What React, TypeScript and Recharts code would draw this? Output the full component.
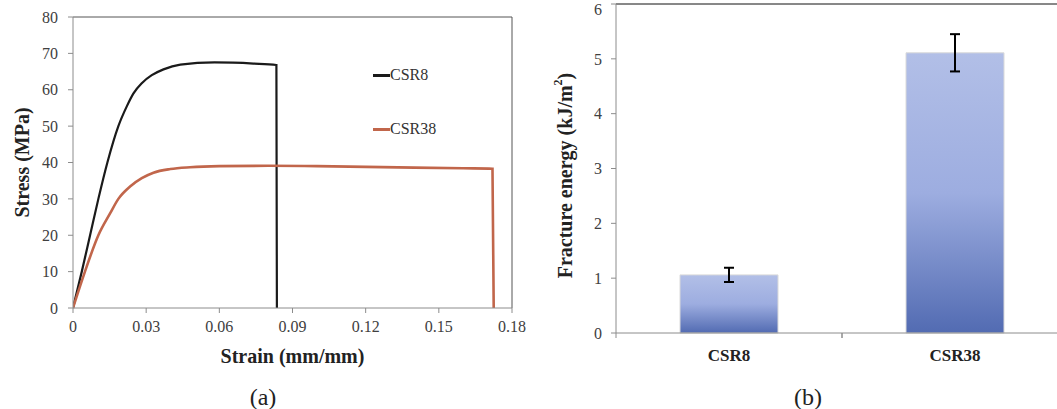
import { Bar, BarChart, ErrorBar, Label, Legend, Line, LineChart, ReferenceLine, XAxis, YAxis } from 'recharts';

// (a) stress-strain curves
const csr8Strain = [0, 0.0036, 0.007, 0.0104, 0.0141, 0.0186, 0.0221, 0.0248, 0.0282, 0.0323, 0.0371, 0.044, 0.058, 0.074, 0.0834, 0.0836];
const csr8Stress = [0, 10, 20, 30, 40, 50, 55.5, 59, 61.8, 64, 65.6, 66.9, 67.5, 67.2, 66.8, 0];
const csr38Strain = [0, 0.0049, 0.0104, 0.0152, 0.0186, 0.0234, 0.0282, 0.033, 0.0399, 0.048, 0.06, 0.08, 0.1, 0.12, 0.14, 0.16, 0.172, 0.1725];
const csr38Stress = [0, 10, 20, 26, 30, 33.4, 35.7, 37.2, 38.2, 38.7, 39, 39.1, 39, 38.8, 38.6, 38.4, 38.3, 0];
const strainTicks = [0, 0.03, 0.06, 0.09, 0.12, 0.15, 0.18];
const stressTicks = [0, 10, 20, 30, 40, 50, 60, 70, 80];

// (b) fracture energy
const samples = ['CSR8', 'CSR38'];
const fractureEnergy = [1.06, 5.11];
const fractureError = [0.13, 0.34];
const energyTicks = [0, 1, 2, 3, 4, 5, 6];

const zip = (xs: number[], ys: number[]) => xs.map((x, i) => ({ strain: x, stress: ys[i] }));
const csr8Data = zip(csr8Strain, csr8Stress);
const csr38Data = zip(csr38Strain, csr38Stress);
const energyData = samples.map((s, i) => ({ sample: s, energy: fractureEnergy[i], err: fractureError[i] }));

const serif = "'Liberation Serif', 'Times New Roman', serif";
const tickStyle = { fill: '#404040', fontSize: 16, fontFamily: serif };
const axisGrey = '#8c8c8c';

function SideTitle({ viewBox, left, shift = 0, children }: any) {
  const cy = viewBox.y + viewBox.height / 2 + shift;
  return (
    <text x={left} y={cy} transform={`rotate(-90 ${left} ${cy})`} textAnchor="middle" dominantBaseline="central"
      fontWeight="bold" fontSize={20} fill="#222" style={{ fontFamily: serif }}>
      {children}
    </text>
  );
}

function CurveLegend({ payload }: any) {
  const items = [...(payload || [])].sort((a: any, b: any) => samples.indexOf(a.value) - samples.indexOf(b.value));
  return (
    <div>
      {items.map((p: any) => (
        <div key={p.value} style={{ display: 'flex', alignItems: 'center', height: 54, fontSize: 16, color: '#333', fontFamily: serif }}>
          <span style={{ display: 'inline-block', width: 17, height: 3, background: p.color }} />
          <span>{p.value}</span>
        </div>
      ))}
    </div>
  );
}

function SampleTick({ x, y, payload }: any) {
  const half = payload.offset ?? 113;
  return (
    <g>
      <line x1={x - half} x2={x - half} y1={y - 16} y2={y - 11} stroke={axisGrey} />
      <line x1={x + half} x2={x + half} y1={y - 16} y2={y - 11} stroke={axisGrey} />
      <text x={x} y={y} dy={12} textAnchor="middle" fontWeight="bold" fontSize={17} fill="#222" style={{ fontFamily: serif }}>
        {payload.value}
      </text>
    </g>
  );
}

export default function App() {
  return (
    <div style={{ position: 'absolute', left: 0, top: 0, width: 1057, height: 409, overflow: 'hidden', background: '#fff', fontFamily: serif }}>
      <div style={{ position: 'absolute', left: 0, top: 0 }}>
        <LineChart width={530} height={409} margin={{ top: 17, right: 18, bottom: 5, left: 0 }}>
          <XAxis dataKey="strain" type="number" domain={[0, 0.18]} ticks={strainTicks} allowDataOverflow
            height={96} tick={tickStyle} tickSize={5} tickMargin={8} stroke={axisGrey}
            label={{ value: 'Strain (mm/mm)', position: 'center', fontSize: 20, fontWeight: 'bold', fill: '#222', fontFamily: serif }} />
          <YAxis type="number" domain={[0, 80]} ticks={stressTicks} width={73} tick={tickStyle} tickSize={5} tickMargin={10} stroke={axisGrey}>
            <Label content={<SideTitle left={22}>Stress (MPa)</SideTitle>} />
          </YAxis>
          <ReferenceLine y={80} stroke="#555" />
          <ReferenceLine x={0.18} stroke="#555" />
          <Legend verticalAlign="middle" align="center" layout="vertical" content={<CurveLegend />}
            wrapperStyle={{ left: 373, top: 48, width: 100 }} />
          <Line data={csr8Data} dataKey="stress" name="CSR8" type="monotone" stroke="#1a1a1a" strokeWidth={2.2}
            dot={false} isAnimationActive={false} />
          <Line data={csr38Data} dataKey="stress" name="CSR38" type="monotone" stroke="#c1664b" strokeWidth={2.6}
            dot={false} isAnimationActive={false} />
        </LineChart>
      </div>

      <div style={{ position: 'absolute', left: 540, top: 0 }}>
        <BarChart width={540} height={409} data={energyData} margin={{ top: 4, right: 12, bottom: 0, left: 0 }}>
          <defs>
            <linearGradient id="barFade" x1="0" y1="0" x2="0" y2="1">
              <stop offset="0%" stopColor="#b2bfe7" />
              <stop offset="50%" stopColor="#9dade0" />
              <stop offset="100%" stopColor="#526bb2" />
            </linearGradient>
          </defs>
          <XAxis dataKey="sample" height={76} tickLine={false} tickSize={5} tickMargin={11} stroke={axisGrey}
            tick={<SampleTick />} interval={0} />
          <YAxis type="number" domain={[0, 6]} ticks={energyTicks} width={76} tick={tickStyle} tickSize={5} tickMargin={9} stroke={axisGrey}>
            <Label content={
              <SideTitle left={25} shift={7}>
                Fracture energy (kJ/m<tspan dy={-7} fontSize={12}>2</tspan><tspan dy={7}>)</tspan>
              </SideTitle>
            } />
          </YAxis>
          <ReferenceLine y={6} stroke="#111" />
          <Bar dataKey="energy" barSize={98} fill="url(#barFade)" stroke="#dadada" strokeWidth={1} isAnimationActive={false}>
            <ErrorBar dataKey="err" direction="y" width={5} stroke="#000" strokeWidth={2} />
          </Bar>
        </BarChart>
      </div>

      <div style={{ position: 'absolute', left: 213, top: 383, width: 100, textAlign: 'center', fontSize: 24, lineHeight: '28px', color: '#222' }}>(a)</div>
      <div style={{ position: 'absolute', left: 758, top: 383, width: 100, textAlign: 'center', fontSize: 24, lineHeight: '28px', color: '#222' }}>(b)</div>
    </div>
  );
}
